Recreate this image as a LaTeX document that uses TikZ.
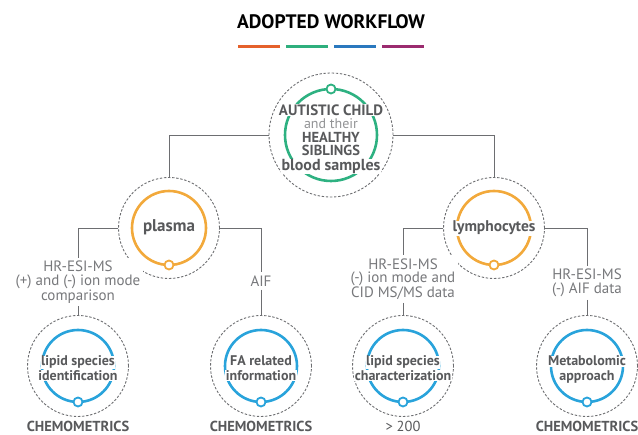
\documentclass[tikz,border=0pt]{standalone}
\usepackage{fontspec}
\setmainfont{PT Sans}
\usetikzlibrary{positioning}
\usetikzlibrary{calc}
\definecolor{txtgray}{HTML}{58595B}
\definecolor{lblgray}{HTML}{77787B}
\definecolor{linegray}{HTML}{6D6E71}
\definecolor{ringorange}{HTML}{F2A93B}
\definecolor{ringgreen}{HTML}{2EB181}
\definecolor{ringblue}{HTML}{29A3DB}
\definecolor{barorange}{HTML}{E5612B}
\definecolor{bargreen}{HTML}{2EAF7D}
\definecolor{barblue}{HTML}{2A78BE}
\definecolor{barpurple}{HTML}{9B2B6F}
\tikzstyle{bigsample} = [circle, draw=linegray, dash pattern=on 2.4pt off 1.7pt, line width=0.9pt,
  minimum size=124pt, inner sep=0pt]
\tikzstyle{sample} = [circle, draw=linegray, dash pattern=on 2.4pt off 1.7pt, line width=0.9pt,
  minimum size=101pt, inner sep=0pt]
\tikzstyle{knob} = [circle, fill=white, line width=1.8pt, minimum size=9pt, inner sep=0pt]
\tikzstyle{word} = [font=\fontsize{14}{14}\selectfont\bfseries, text=txtgray, fill=white, inner sep=0.5pt, anchor=base]
\tikzstyle{thinword} = [font=\fontsize{14}{14}\selectfont, text=lblgray!80, fill=white, inner sep=0.5pt, anchor=base]
\tikzstyle{method} = [font=\fontsize{15}{13.5}\selectfont, text=lblgray, align=center, fill=white, inner sep=3pt]
\tikzstyle{result} = [font=\fontsize{14.5}{14.5}\selectfont\bfseries, text=txtgray, anchor=base]
\tikzstyle{link} = [draw=linegray, line width=0.8pt]

\begin{document}
\begin{tikzpicture}[x=1pt, y=-1pt]
  \useasboundingbox (0,0) rectangle (638,435);
  \node (title) at (331,22) {\fontsize{19.5}{19.5}\selectfont\bfseries ADOPTED WORKFLOW};
  \foreach \c [count=\i] in {barorange,bargreen,barblue,barpurple}
    \draw[\c, line width=3pt] ({190+48*\i},47) -- ++(42,0);

  % blood samples
  \node[bigsample] (blood) at (331,135) {};
  \draw[ringgreen, line width=2.6pt] (blood.center) circle (46pt);
  \node[knob, draw=ringgreen] (bloodknob) at ($(blood.center)+(0,-46)$) {};
  \node[word, font=\fontsize{15}{15}\selectfont\bfseries] (autistic) at (331,115.5) {AUTISTIC CHILD};
  \node[thinword] (their) at (331,129) {and their};
  \node[word, font=\fontsize{14.5}{14.5}\selectfont\bfseries] (healthy) at (331,142.5) {HEALTHY};
  \node[word, font=\fontsize{14.5}{14.5}\selectfont\bfseries] (siblings) at (331,156) {SIBLINGS};
  \node[word, font=\fontsize{16}{16}\selectfont\bfseries] (bloodtxt) at (331,170.5) {blood samples};

  % plasma and lymphocytes
  \node[sample] (plasma) at (169,228) {};
  \draw[ringorange, line width=2.6pt] (plasma.center) circle (37pt);
  \node[knob, draw=ringorange] (plasmaknob) at ($(plasma.center)+(0,37)$) {};
  \node[word, font=\fontsize{17}{17}\selectfont\bfseries] (plasmatxt) at (169,232) {plasma};
  \node[sample] (lympho) at (494,228) {};
  \draw[ringorange, line width=2.6pt] (lympho.center) circle (37pt);
  \node[knob, draw=ringorange] (lymphoknob) at ($(lympho.center)+(0,37)$) {};
  \node[word, font=\fontsize{15.5}{15.5}\selectfont\bfseries] (lymphotxt) at (494,232) {lymphocytes};

  \draw[link] (blood) -| (plasma);
  \draw[link] (blood) -| (lympho);

  % methods
  \node[method] (hrA) at (78,282) {HR-ESI-MS\\(+) and (-) ion mode\\comparison};
  \node[method] (aif) at (261,281) {AIF};
  \node[method] (hrB) at (403,279) {HR-ESI-MS\\(-) ion mode and\\CID MS/MS data};
  \node[method] (hrC) at (587,283) {HR-ESI-MS\\(-) AIF data};

  % outcomes
  \foreach \n/\x in {ident/78, fa/261, charact/403, metab/587} {
    \node[sample] (\n) at (\x,366) {};
    \draw[ringblue, line width=2.6pt] (\n.center) circle (36pt);
    \node[knob, draw=ringblue] (\n knob) at ($(\n.center)+(0,36)$) {};
  }
  \node[word] (ident1) at (78,366) {lipid species};
  \node[word] (ident2) at (78,380.5) {identification};
  \node[word] (fa1) at (261,366) {FA related};
  \node[word] (fa2) at (261,380.5) {information};
  \node[word] (charact1) at (403,366) {lipid species};
  \node[word] (charact2) at (403,380.5) {characterization};
  \node[word] (metab1) at (587,366) {Metabolomic};
  \node[word] (metab2) at (587,380.5) {approach};

  \draw[link] (plasma) -| (hrA);
  \draw[link] (plasma) -| (aif);
  \draw[link] (lympho) -| (hrB);
  \draw[link] (lympho) -| (hrC);
  \draw[link] (hrA) -- (ident);
  \draw[link] (aif) -- (fa);
  \draw[link] (hrB) -- (charact);
  \draw[link] (hrC) -- (metab);

  \node[result] (chemA) at (78,431.5) {CHEMOMETRICS};
  \node[result] (chemB) at (261,431.5) {CHEMOMETRICS};
  \node[result, font=\fontsize{14.5}{14.5}\selectfont] (count) at (403,431.5) {> 200};
  \node[result] (chemC) at (587,431.5) {CHEMOMETRICS};
\end{tikzpicture}
\end{document}
